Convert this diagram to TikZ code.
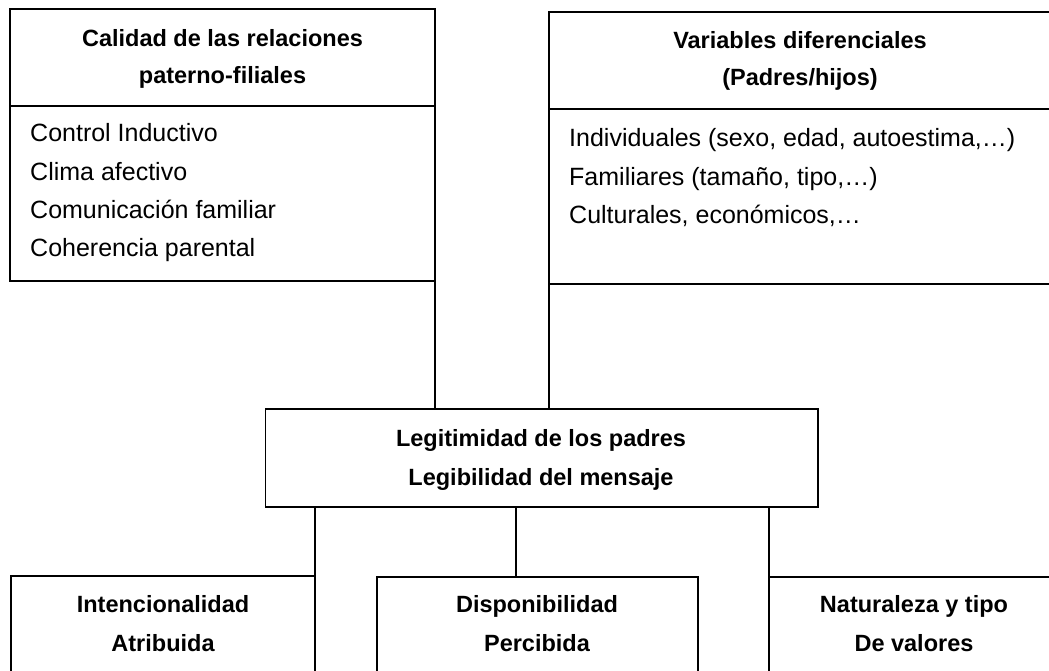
\documentclass[tikz,border=0pt]{standalone}
\usepackage{fontspec}
\setmainfont{Liberation Sans}
\begin{document}
\begin{tikzpicture}[x=1pt,y=-1pt,
  box/.style={draw, line width=1.1pt, rectangle, inner sep=0pt, outer sep=0pt},
  conn/.style={draw, line width=1.1pt},
  ttl/.style={font=\fontsize{23.5}{37}\selectfont\bfseries, align=center, anchor=base, inner sep=0pt},
  bdy/.style={font=\fontsize{25}{38.3}\selectfont, align=left, anchor=base west, inner sep=0pt}]
\useasboundingbox (0,0) rectangle (1049,670);
\clip (0,0) rectangle (1049,670);
\fill[white] (0,0) rectangle (1049,670);
% top left
\node[box, minimum width=425pt, minimum height=97pt] (lh) at (222.5,57.5) {};
\node[box, minimum width=425pt, minimum height=175pt] (lb) at (222.5,193.5) {};
\node[ttl] (lht) at (222.5,83) {Calidad de las relaciones\\paterno-filiales};
\node[bdy] (lbt) at (30,256.6) {Control Inductivo\\Clima afectivo\\Comunicación familiar\\Coherencia parental};
% top right
\node[box, minimum width=502pt, minimum height=97pt] (rh) at (800,60.5) {};
\node[box, minimum width=502pt, minimum height=175pt] (rb) at (800,196.5) {};
\node[ttl] (rht) at (800,85) {Variables diferenciales\\(Padres/hijos)};
\node[bdy] (rbt) at (569,223.3) {Individuales (sexo, edad, autoestima,…)\\Familiares (tamaño, tipo,…)\\Culturales, económicos,…};
% middle
\node[box, minimum width=552.5pt, minimum height=98pt] (lg) at (541.75,458) {};
\node[ttl, font=\fontsize{23.5}{38.3}\selectfont\bfseries] (lgt) at (541,485) {Legitimidad de los padres\\Legibilidad del mensaje};
% bottom
\node[box, minimum width=304pt, minimum height=140pt] (bl) at (163,646) {};
\node[box, minimum width=321pt, minimum height=140pt] (bm) at (537.5,647) {};
\node[box, minimum width=290pt, minimum height=140pt] (br) at (914,647) {};
\node[ttl, font=\fontsize{23.5}{39}\selectfont\bfseries] (blt) at (163,651) {Intencionalidad\\Atribuida};
\node[ttl, font=\fontsize{23.5}{39}\selectfont\bfseries] (bmt) at (537,651) {Disponibilidad\\Percibida};
\node[ttl, font=\fontsize{23.5}{39}\selectfont\bfseries] (brt) at (914,651) {Naturaleza y tipo\\De valores};
% connectors
\coordinate (mtop) at (516,507);
\draw[conn] (lb.south east) -- (lb.south east |- lg.north);
\draw[conn] (rb.south west) -- (rb.south west |- lg.north);
\draw[conn] (bl.north east |- lg.south) -- (bl.north east);
\draw[conn] (mtop) -- (mtop |- bm.north);
\draw[conn] (br.north west |- lg.south) -- (br.north west);
\end{tikzpicture}
\end{document}
